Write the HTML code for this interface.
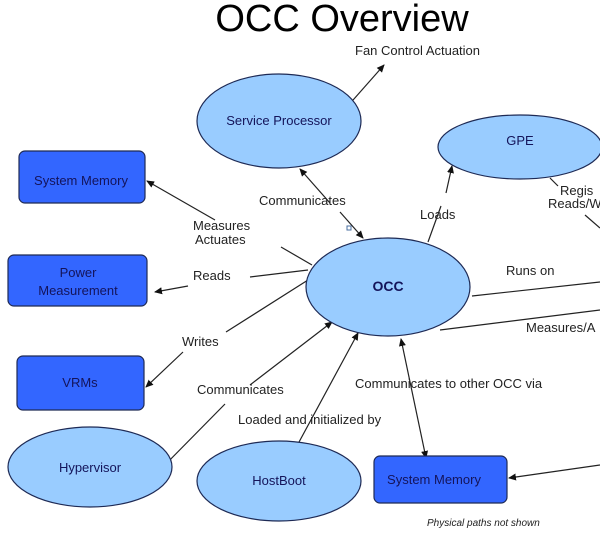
<!DOCTYPE html>
<html><head><meta charset="utf-8"><style>
html,body{margin:0;padding:0;background:#fff;width:600px;height:533px;overflow:hidden}
svg{display:block}
text{font-family:"Liberation Sans",Arial,sans-serif;font-size:13px;fill:#222}
.n{fill:#14145a;font-size:13px}
</style></head><body>
<svg width="600" height="533" viewBox="0 0 600 533" xmlns="http://www.w3.org/2000/svg">
<defs><marker id="a" markerWidth="8" markerHeight="8" refX="7" refY="4" orient="auto" markerUnits="userSpaceOnUse"><path d="M0,0.5 L8,4 L0,7.5z" fill="#111"/></marker>
<marker id="b" markerWidth="8" markerHeight="8" refX="1" refY="4" orient="auto" markerUnits="userSpaceOnUse"><path d="M8,0.5 L0,4 L8,7.5z" fill="#111"/></marker></defs>
<text x="342" y="31" text-anchor="middle" style="font-size:38px;fill:#000">OCC Overview</text>
<g stroke="#222" stroke-width="1.2" fill="none">
<line x1="346" y1="108" x2="384" y2="65" marker-end="url(#a)"/>
<line x1="300" y1="169" x2="330" y2="203" marker-start="url(#b)"/>
<line x1="340" y1="212" x2="363" y2="238" marker-end="url(#a)"/>
<line x1="428" y1="242" x2="441" y2="206"/>
<line x1="446" y1="193" x2="452" y2="166" marker-end="url(#a)"/>
<line x1="550" y1="178" x2="558" y2="186"/>
<line x1="585" y1="215" x2="600" y2="228"/>
<line x1="215" y1="220" x2="147" y2="181" marker-end="url(#a)"/>
<line x1="281" y1="247" x2="312" y2="265"/>
<line x1="188" y1="286" x2="155" y2="292" marker-end="url(#a)"/>
<line x1="250" y1="277" x2="308" y2="270"/>
<line x1="308" y1="280" x2="226" y2="332"/>
<line x1="183" y1="352" x2="146" y2="387" marker-end="url(#a)"/>
<line x1="332" y1="322" x2="250" y2="385" marker-start="url(#b)"/>
<line x1="225" y1="404" x2="158" y2="472" marker-end="url(#a)"/>
<line x1="292" y1="455" x2="358" y2="333" marker-end="url(#a)"/>
<line x1="401" y1="339" x2="426" y2="458" marker-start="url(#b)" marker-end="url(#a)"/>
<line x1="472" y1="296" x2="600" y2="282"/>
<line x1="440" y1="330" x2="600" y2="310"/>
<line x1="600" y1="465" x2="509" y2="478" marker-end="url(#a)"/>
</g>
<rect x="347" y="226" width="4" height="4" fill="none" stroke="#4a6fa0"/>
<g fill="#99ccff" stroke="#1e2a55" stroke-width="1.2">
<ellipse cx="279" cy="121" rx="82" ry="47"/>
<ellipse cx="520" cy="147" rx="82" ry="32"/>
<ellipse cx="388" cy="287" rx="82" ry="49"/>
<ellipse cx="90" cy="467" rx="82" ry="40"/>
<ellipse cx="279" cy="481" rx="82" ry="40"/>
</g>
<g fill="#3366ff" stroke="#1e2a55" stroke-width="1.2">
<rect x="19" y="151" width="126" height="52" rx="6"/>
<rect x="8" y="255" width="139" height="51" rx="6"/>
<rect x="17" y="356" width="127" height="54" rx="6"/>
<rect x="374" y="456" width="133" height="47" rx="6"/>
</g>
<text class="n" x="279" y="125" text-anchor="middle">Service Processor</text>
<text class="n" x="520" y="145" text-anchor="middle">GPE</text>
<text class="n" x="388" y="291" text-anchor="middle" style="font-weight:bold;font-size:14px">OCC</text>
<text class="n" x="90" y="472" text-anchor="middle">Hypervisor</text>
<text class="n" x="279" y="485" text-anchor="middle">HostBoot</text>
<text class="n" x="81" y="185" text-anchor="middle">System Memory</text>
<text class="n" x="78" y="277" text-anchor="middle">Power</text>
<text class="n" x="78" y="295" text-anchor="middle">Measurement</text>
<text class="n" x="80" y="387" text-anchor="middle">VRMs</text>
<text class="n" x="434" y="484" text-anchor="middle">System Memory</text>
<text x="355" y="55">Fan Control Actuation</text>
<text x="259" y="205">Communicates</text>
<text x="420" y="219">Loads</text>
<text x="560" y="195">Regis</text>
<text x="548" y="208">Reads/W</text>
<text x="193" y="230">Measures</text>
<text x="195" y="244">Actuates</text>
<text x="193" y="280">Reads</text>
<text x="182" y="346">Writes</text>
<text x="197" y="394">Communicates</text>
<text x="238" y="424">Loaded and initialized by</text>
<text x="355" y="388">Communicates to other OCC via</text>
<text x="506" y="275">Runs on</text>
<text x="526" y="332">Measures/A</text>
<text x="427" y="526" style="font-size:10px;font-style:italic">Physical paths not shown</text>
</svg>
</body></html>
